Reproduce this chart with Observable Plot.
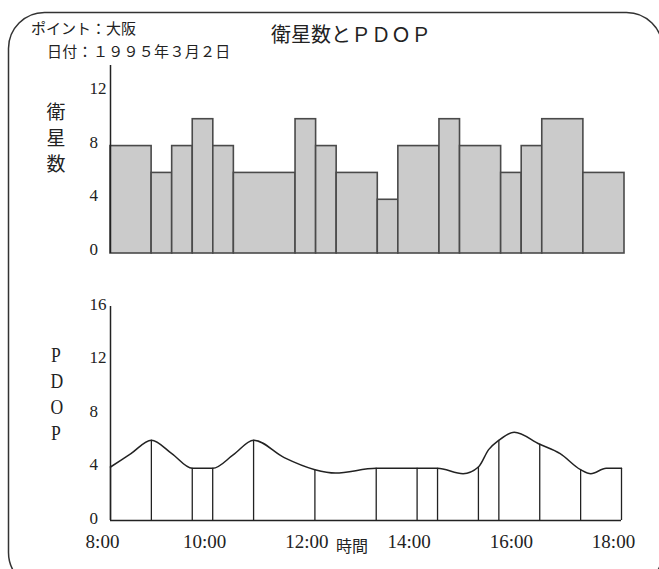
<!DOCTYPE html>
<html><head><meta charset="utf-8">
<script src="https://cdn.jsdelivr.net/npm/d3@7"></script>
<script src="https://cdn.jsdelivr.net/npm/@observablehq/plot@0.6"></script>
<style>
body{margin:0;background:#fff;}
#wrap{position:relative;width:659px;height:569px;overflow:hidden;background:#fff;}
.abs{position:absolute;white-space:nowrap;color:#222;}
.jp{font-family:"Noto Sans CJK JP",sans-serif;}
#top,#bottom{position:absolute;left:0;}
#top{top:0;} #bottom{top:290px;}
</style></head><body>
<div id="wrap">
<svg id="frame" width="659" height="569" style="position:absolute;left:0;top:0">
<rect x="8.5" y="12.5" width="654" height="576" rx="36" ry="36" fill="none" stroke="#333" stroke-width="1.5"/>
</svg>
<div id="top"></div>
<div id="bottom"></div>
<div class="abs jp" style="left:31px;top:17px;font-size:15px;line-height:22px">ポイント：大阪</div>
<div class="abs jp" style="left:47px;top:40px;font-size:15px;line-height:22px;letter-spacing:0.3px">日付：１９９５年３月２日</div>
<div class="abs jp" style="left:271px;top:22px;font-size:20px;line-height:24px">衛星数とＰＤＯＰ</div>
<div class="abs jp" style="left:46px;top:98px;width:20px;text-align:center;font-size:19px;line-height:26px">衛<br>星<br>数</div>
<div class="abs" style="left:49px;top:342px;width:14px;text-align:center;font-family:'Liberation Serif',serif;font-size:22px;line-height:26px;transform:scaleX(0.8);transform-origin:center">P<br>D<br>O<br>P</div>
<div class="abs jp" style="left:336px;top:534px;font-size:16px;line-height:22px">時間</div>
</div>
<script>
// --- data (hours of day) ---
const barEdges  = [8, 8.8, 9.2, 9.6, 10, 10.4, 11.6, 12, 12.4, 13.2, 13.6, 14.4, 14.8, 15.6, 16, 16.4, 17.2, 18];
const satCounts = [8, 6, 8, 10, 8, 6, 10, 8, 6, 4, 8, 10, 8, 6, 8, 10, 6];
const satTicks  = [0, 4, 8, 12];

const pdopHours  = [8, 8.4, 8.8, 9.2, 9.6, 10, 10.4, 10.8, 11.4, 12, 12.4, 13.2, 14, 14.4, 14.9, 15.2, 15.4, 15.6, 15.9, 16.4, 16.8, 17.2, 17.4, 17.7, 18];
const pdopValues = [4.0, 5.0, 6.0, 5.0, 3.9, 3.9, 4.9, 6.0, 4.7, 3.8, 3.55, 3.9, 3.9, 3.9, 3.5, 4.0, 5.3, 6.0, 6.6, 5.7, 5.0, 3.8, 3.5, 3.9, 3.9];
const vlineHours = [8, 8.8, 9.6, 10, 10.8, 12, 13.2, 14, 14.4, 15.2, 15.6, 16.4, 17.2, 18];
const pdopTicks  = [0, 4, 8, 12, 16];
const timeTicks  = [8, 10, 12, 14, 16, 18];
const timeLabels = ["8:00", "10:00", "12:00", "14:00", "16:00", "18:00"];

const satTable  = satCounts.map((n, i) => ({x1: barEdges[i], x2: barEdges[i + 1], n}));
const pdopTable = pdopHours.map((t, i) => ({t, v: pdopValues[i]}));
const vlineTable = vlineHours.map(t => ({t, v: pdopValues[pdopHours.indexOf(t)]}));

const ink = "#222";

const topChart = Plot.plot({
  width: 659, height: 262,
  marginLeft: 110, marginRight: 35, marginTop: 65, marginBottom: 9,
  x: {domain: [8, 18], axis: null},
  y: {domain: [0, 14], axis: null},
  style: {background: "transparent", fontFamily: "'Liberation Serif', serif", color: ink},
  marks: [
    Plot.rectY(satTable, {x1: "x1", x2: "x2", y: "n", fill: "#cbcbcb", stroke: "#4a4a4a", strokeWidth: 1.6}),
    Plot.ruleX([8], {y1: 0, y2: 14, stroke: ink, strokeWidth: 1.5}),
    Plot.axisY({ticks: satTicks, label: null, tickSize: 0, tickPadding: 21, textAnchor: "start", dy: -4, fontSize: 17, fill: ink})
  ]
});
document.getElementById("top").append(topChart);

const bottomChart = Plot.plot({
  width: 659, height: 270,
  marginLeft: 110, marginRight: 38, marginTop: 16, marginBottom: 40,
  x: {domain: [8, 18], axis: null},
  y: {domain: [0, 16], axis: null},
  style: {background: "transparent", fontFamily: "'Liberation Serif', serif", color: ink},
  marks: [
    Plot.ruleY([0], {stroke: ink, strokeWidth: 1.5}),
    Plot.ruleX([8], {y1: 0, y2: 16, stroke: ink, strokeWidth: 1.5}),
    Plot.ruleX(vlineTable, {x: "t", y1: 0, y2: "v", stroke: ink, strokeWidth: 1.3}),
    Plot.line(pdopTable, {x: "t", y: "v", curve: "monotone-x", stroke: ink, strokeWidth: 1.5}),
    Plot.axisY({ticks: pdopTicks, label: null, tickSize: 0, tickPadding: 21, textAnchor: "start", dy: -2, fontSize: 17, fill: ink}),
    Plot.axisX({ticks: timeTicks, label: null, tickFormat: (d) => timeLabels[timeTicks.indexOf(d)], tickSize: 0, tickPadding: 14, dx: -8, fontSize: 19, fill: ink})
  ]
});
document.getElementById("bottom").append(bottomChart);
</script>
</body></html>
